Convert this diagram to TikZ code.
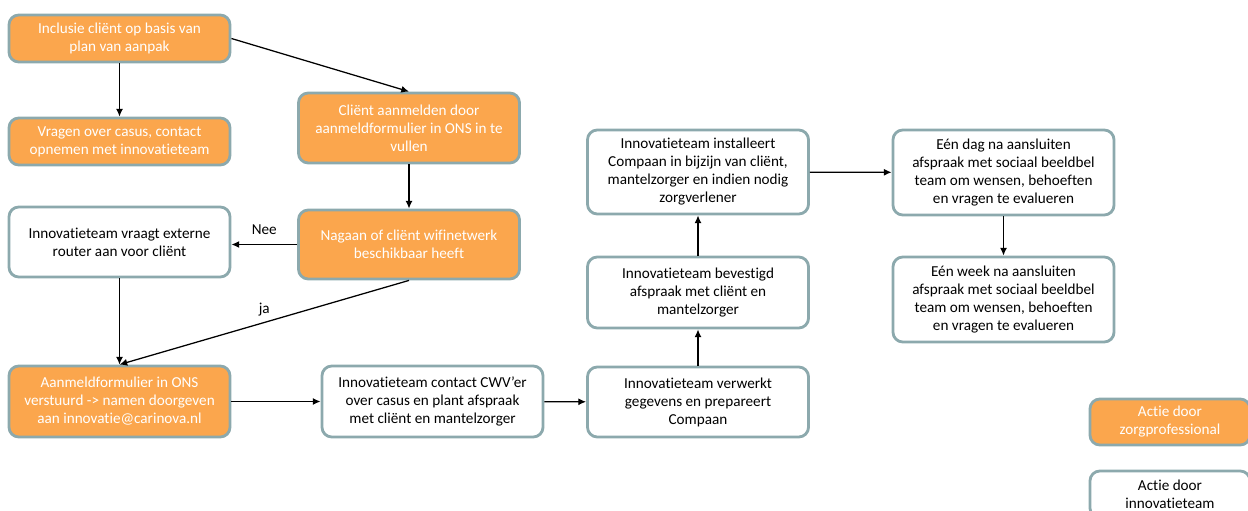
\documentclass[tikz,border=0pt]{standalone}
\usepackage{fontspec}
\setmainfont[Ligatures=NoCommon]{Carlito}
\usetikzlibrary{arrows.meta}
\definecolor{boxorange}{HTML}{FBA64D}
\definecolor{boxrim}{HTML}{8CA9AD}
\tikzset{box/.style={draw=boxrim, line width=2pt, rounded corners=7pt, align=center, inner sep=2pt, minimum width=5.525cm, font=\fontsize{10.8}{12.8}\selectfont},
         zorg/.style={box, fill=boxorange, text=white},
         team/.style={box, fill=white, text=black},
         flow/.style={-{Latex[length=5.5pt,width=5pt]}, line width=0.9pt, black}}

\begin{document}
\begin{tikzpicture}[x=0.025cm,y=-0.025cm]
  \useasboundingbox (0,0) rectangle (1248,511);
  % left column
  \node[zorg, minimum height=1.175cm] (incl)   at (119.5, 38.5) {Inclusie cliënt op basis van\\plan van aanpak};
  \node[zorg, minimum height=1.175cm] (vragen) at (119.5,141.5) {Vragen over casus, contact\\opnemen met innovatieteam};
  \node[team, minimum height=1.75cm]  (router) at (119.5,242)   {Innovatieteam vraagt externe\\router aan voor cliënt};
  \node[zorg, minimum height=1.775cm] (formulier) at (119.5,401.5) {Aanmeldformulier in ONS\\verstuurd -> namen doorgeven\\aan innovatie@carinova.nl};
  % second column
  \node[zorg, minimum height=1.75cm]  (aanmelden) at (409,128)   {Cliënt aanmelden door\\aanmeldformulier in ONS in te\\vullen};
  \node[zorg, minimum height=1.725cm] (wifi)      at (409,244.5) {Nagaan of cliënt wifinetwerk\\beschikbaar heeft};
  \node[team, minimum height=1.775cm] (contact)   at (432.5,401.5) {Innovatieteam contact CWV'er\\over casus en plant afspraak\\met cliënt en mantelzorger};
  % third column
  \node[team, minimum height=1.75cm]  (verwerkt)  at (698,402)   {Innovatieteam verwerkt\\gegevens en prepareert\\Compaan};
  \node[team, minimum height=1.775cm] (bevestigd) at (698,292.5) {Innovatieteam bevestigd\\afspraak met cliënt en\\mantelzorger};
  \node[team, minimum height=2.1cm]   (install)   at (698,172)   {Innovatieteam installeert\\Compaan in bijzijn van cliënt,\\mantelzorger en indien nodig\\zorgverlener};
  % fourth column
  \node[team, minimum height=2.125cm] (dag)  at (1003.5,172.5) {Eén dag na aansluiten\\afspraak met sociaal beeldbel\\team om wensen, behoeften\\en vragen te evalueren};
  \node[team, minimum height=2.125cm] (week) at (1003.5,299.5) {Eén week na aansluiten\\afspraak met sociaal beeldbel\\team om wensen, behoeften\\en vragen te evalueren};
  % legend
  \node[zorg, minimum width=4cm, minimum height=1.15cm]  (legzorg) at (1170,422)   {Actie door\\zorgprofessional};
  \node[team, minimum width=4cm, minimum height=1.175cm] (legteam) at (1170,494.5) {Actie door\\innovatieteam};

  \draw[flow] (incl) -- (vragen);
  \draw[flow] (incl.east) -- (aanmelden.north);
  \draw[flow] (aanmelden) -- (wifi);
  \draw[flow] (wifi.west) -- node[above=3pt, font=\fontsize{10.8}{12.8}\selectfont] (nee) {Nee} (router.east |- wifi.west);
  \draw[flow] (router) -- (formulier);
  \draw[flow] (wifi.south) -- node[above=1pt, font=\fontsize{10.8}{12.8}\selectfont] (ja) {ja} (formulier.north);
  \draw[flow] (formulier) -- (contact);
  \draw[flow] (contact) -- (verwerkt);
  \draw[flow] (verwerkt) -- (bevestigd);
  \draw[flow] (bevestigd) -- (install);
  \draw[flow] (install) -- (dag);
  \draw[flow] (dag) -- (week);
\end{tikzpicture}
\end{document}
